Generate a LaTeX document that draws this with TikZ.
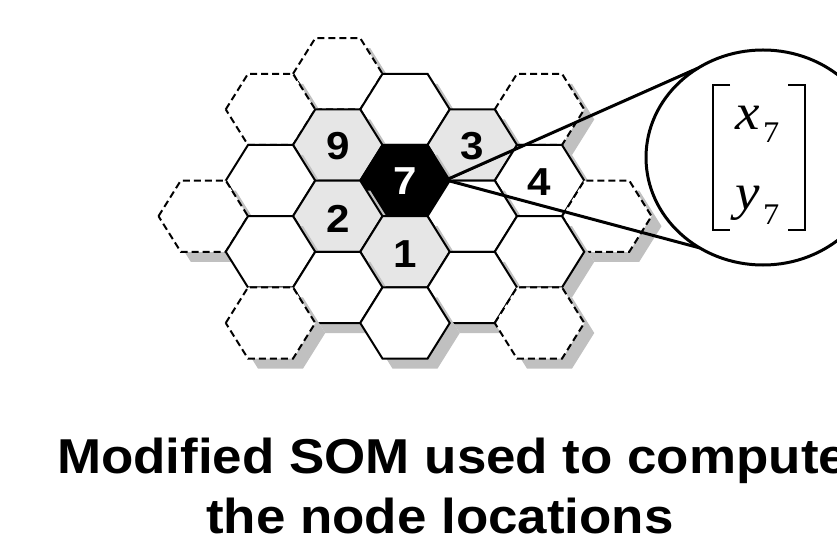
\documentclass[tikz,border=0pt]{standalone}
\usepackage{fontspec}
\setmainfont{Liberation Sans}
\newfontfamily\mathserif{Liberation Serif}
\usetikzlibrary{shapes.geometric}

\definecolor{shade}{HTML}{C0C0C0}
\definecolor{cellgray}{HTML}{E6E6E6}

\tikzset{
  hexcell/.pic={\path[pic actions] (-44.75,0) -- (-22.5,-35.6) -- (22.5,-35.6)
      -- (44.75,0) -- (22.5,35.6) -- (-22.5,35.6) -- cycle;},
  solidcell/.style={draw=black, line width=2pt},
  dashcell/.style={draw=black, line width=2pt, dash pattern=on 7pt off 4pt},
  digit/.style={font=\bfseries\fontsize{39}{39}\selectfont, inner sep=0pt},
  lensline/.style={line width=3pt},
  bracket/.style={line width=1.6pt},
  title/.style={anchor=base west, inner sep=0pt, font=\bfseries\fontsize{49}{49}\selectfont},
}

% grid cell: column i, half-row r, outline style, fill colour
\newcommand\hexcellat[4]{%
  \pic[fill=shade] at ({405+67.25*(#1)+10},{180.6+35.6*(#2)+10}) {hexcell};
  \pic[#3, fill=#4] at ({405+67.25*(#1)},{180.6+35.6*(#2)}) {hexcell};
}

\begin{document}
\begin{tikzpicture}[x=1pt, y=-1pt]
\useasboundingbox (0,0) rectangle (837,537);
\clip (0,0) rectangle (837,537);

% map cells, top row first
\hexcellat{-1}{-3}{dashcell}{white}
\hexcellat{-2}{-2}{dashcell}{white}
\hexcellat{0}{-2}{solidcell}{white}
\hexcellat{2}{-2}{dashcell}{white}
\hexcellat{-1}{-1}{solidcell}{cellgray}
\hexcellat{1}{-1}{solidcell}{cellgray}
\hexcellat{-2}{0}{solidcell}{white}
\hexcellat{0}{0}{solidcell}{black}
\hexcellat{2}{0}{solidcell}{white}
\hexcellat{-3}{1}{dashcell}{white}
\hexcellat{-1}{1}{solidcell}{cellgray}
\hexcellat{1}{1}{solidcell}{white}
\hexcellat{3}{1}{dashcell}{white}
\hexcellat{-2}{2}{solidcell}{white}
\hexcellat{0}{2}{solidcell}{cellgray}
\hexcellat{2}{2}{solidcell}{white}
\hexcellat{-1}{3}{solidcell}{white}
\hexcellat{1}{3}{solidcell}{white}
\hexcellat{-2}{4}{dashcell}{white}
\hexcellat{0}{4}{solidcell}{white}
\hexcellat{2}{4}{dashcell}{white}

% node numbers
\node[digit] (n9) at (337.75,146) {\scalebox{1.08}[1]{9}};
\node[digit] (n3) at (472.25,146) {\scalebox{1.08}[1]{3}};
\node[digit, text=white] (n7) at (405,181) {\scalebox{1.08}[1]{7}};
\node[digit] (n4) at (539.5,182) {\scalebox{1.08}[1]{4}};
\node[digit] (n2) at (337.75,219) {\scalebox{1.08}[1]{2}};
\node[digit] (n1) at (405,254) {\scalebox{1.08}[1]{1}};

% magnifying lens on node 7
\coordinate (focus) at (446,180);
\node[ellipse, draw, line width=3pt, fill=white, minimum width=234pt,
      minimum height=215pt, inner sep=0pt, outer sep=0pt] (lens) at (763,157.5) {};
\draw[lensline] (focus) -- (lens.126);
\draw[lensline] (focus) -- (lens.235);

% weight vector of node 7
\draw[bracket] (730,85) -- (713,85) -- (713,230) -- (730,230);
\draw[bracket] (788,85) -- (805,85) -- (805,230) -- (788,230);
\node[anchor=base west, inner sep=0pt, font=\mathserif\itshape\fontsize{51}{51}\selectfont]
  (xvar) at (735,130) {\scalebox{1.08}[1]{x}};
\node[anchor=base west, inner sep=0pt, font=\mathserif\fontsize{30}{30}\selectfont]
  (xsub) at (763,143) {\scalebox{1.08}[1]{7}};
\node[anchor=base west, inner sep=0pt, font=\mathserif\itshape\fontsize{51}{51}\selectfont]
  (yvar) at (735,210) {\scalebox{1.08}[1]{y}};
\node[anchor=base west, inner sep=0pt, font=\mathserif\fontsize{30}{30}\selectfont]
  (ysub) at (763,225) {\scalebox{1.08}[1]{7}};

% caption
\node[title] (cap1) at (57,473) {\scalebox{1.08}[1]{Modified SOM used to compute}};
\node[title] (cap2) at (206,533) {\scalebox{1.08}[1]{the node locations}};
\end{tikzpicture}
\end{document}
